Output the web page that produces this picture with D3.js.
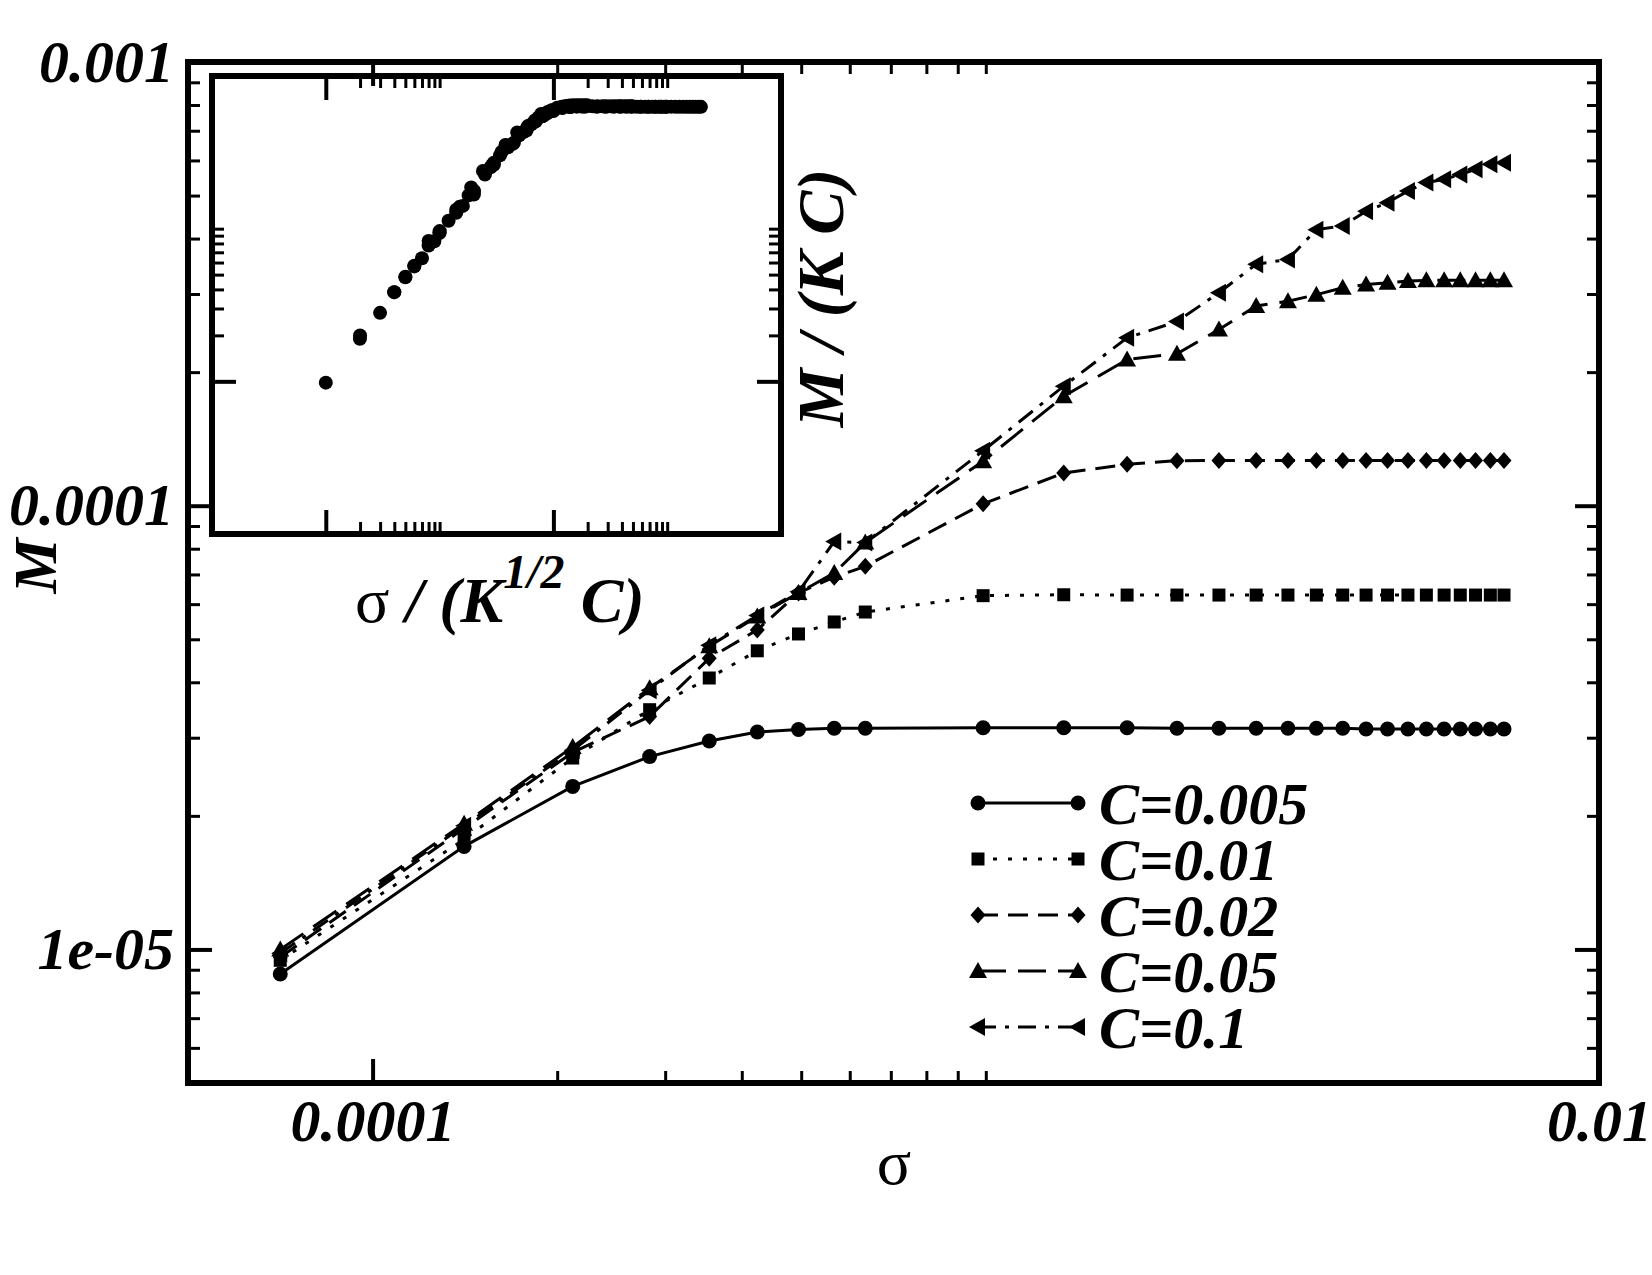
<!DOCTYPE html>
<html>
<head>
<meta charset="utf-8">
<script src="https://cdn.jsdelivr.net/npm/d3@7.9.0/dist/d3.min.js"></script>
<style>
  body { margin: 0; background: #fff; }
  text { font-family: "Liberation Serif", "Times New Roman", serif; fill: #000; }
  .bi { font-weight: bold; font-style: italic; }
</style>
</head>
<body>
<svg id="chart" width="1652" height="1275"></svg>
<script>
// sigma values shared by every curve
const sigma = [7.07e-5, 1.41e-4, 2.12e-4, 2.83e-4, 3.54e-4, 4.24e-4, 4.95e-4, 5.66e-4, 6.36e-4,
  9.90e-4, 1.34e-3, 1.70e-3, 2.05e-3, 2.40e-3, 2.76e-3, 3.11e-3, 3.46e-3, 3.82e-3, 4.17e-3,
  4.52e-3, 4.88e-3, 5.23e-3, 5.59e-3, 5.94e-3, 6.29e-3, 6.65e-3, 7.00e-3];

const mC005 = [8.8e-6, 1.707e-5, 2.33e-5, 2.72e-5, 2.95e-5, 3.09e-5, 3.13e-5, 3.15e-5, 3.15e-5,
  3.16e-5, 3.16e-5, 3.16e-5, 3.15e-5, 3.15e-5, 3.15e-5, 3.15e-5, 3.15e-5, 3.15e-5,
  3.14e-5, 3.14e-5, 3.14e-5, 3.14e-5, 3.14e-5, 3.14e-5, 3.14e-5, 3.14e-5, 3.14e-5];
const mC01 = [9.45e-6, 1.77e-5, 2.70e-5, 3.47e-5, 4.09e-5, 4.71e-5, 5.14e-5, 5.47e-5, 5.76e-5,
  6.27e-5, 6.30e-5, 6.29e-5, 6.29e-5, 6.29e-5, 6.29e-5, 6.29e-5, 6.29e-5, 6.29e-5,
  6.29e-5, 6.29e-5, 6.29e-5, 6.29e-5, 6.29e-5, 6.29e-5, 6.29e-5, 6.29e-5, 6.29e-5];
const mC02 = [9.6e-6, 1.875e-5, 2.78e-5, 3.35e-5, 4.53e-5, 5.25e-5, 6.36e-5, 6.9e-5, 7.3e-5,
  1.01e-4, 1.185e-4, 1.24e-4, 1.263e-4, 1.265e-4, 1.265e-4, 1.265e-4, 1.265e-4, 1.265e-4,
  1.265e-4, 1.265e-4, 1.265e-4, 1.265e-4, 1.265e-4, 1.265e-4, 1.265e-4, 1.265e-4, 1.265e-4];
const mC05 = [1.0e-5, 1.92e-5, 2.86e-5, 3.88e-5, 4.82e-5, 5.63e-5, 6.36e-5, 7.05e-5, 8.26e-5,
  1.26e-4, 1.765e-4, 2.135e-4, 2.20e-4, 2.495e-4, 2.82e-4, 2.89e-4, 2.99e-4, 3.10e-4,
  3.15e-4, 3.18e-4, 3.21e-4, 3.22e-4, 3.22e-4, 3.22e-4, 3.22e-4, 3.22e-4, 3.22e-4];
const mC1 = [9.8e-6, 1.90e-5, 2.81e-5, 3.84e-5, 4.85e-5, 5.66e-5, 6.40e-5, 8.3e-5, 8.26e-5,
  1.33e-4, 1.86e-4, 2.39e-4, 2.60e-4, 3.02e-4, 3.50e-4, 3.59e-4, 4.19e-4, 4.27e-4,
  4.61e-4, 4.82e-4, 5.12e-4, 5.35e-4, 5.44e-4, 5.58e-4, 5.73e-4, 5.88e-4, 5.93e-4];

const concentrations = [0.005, 0.01, 0.02, 0.05, 0.1];
const legendLabels = ['C=0.005', 'C=0.01', 'C=0.02', 'C=0.05', 'C=0.1'];
const seriesValues = [mC005, mC01, mC02, mC05, mC1];

// axis ticks
const xMajor = [1e-4, 1e-2];
const xTickLabels = ['0.0001', '0.01'];
const xMinor = [2e-4, 3e-4, 4e-4, 5e-4, 6e-4, 7e-4, 8e-4, 9e-4, 1e-3];
const yMajor = [1e-5, 1e-4, 1e-3];
const yTickLabels = ['1e-05', '0.0001', '0.001'];
const yMinor = [6e-6, 7e-6, 8e-6, 9e-6, 2e-5, 3e-5, 4e-5, 5e-5, 6e-5, 7e-5, 8e-5, 9e-5,
  2e-4, 3e-4, 4e-4, 5e-4, 6e-4, 7e-4, 8e-4, 9e-4];

// inset: scaled variables sigma/(K^1/2 C) and M/(K C)
const K = 0.005;
const insetXMajor = [1e-2, 1];
const insetXMinor = [2e-2, 3e-2, 4e-2, 5e-2, 6e-2, 7e-2, 8e-2, 9e-2, 1e-1, 2, 3, 4, 5, 6, 7, 8, 9, 10];
const insetYMajor = [2e-2];
const insetYMinor = [4e-2, 6e-2, 8e-2, 0.1, 0.12, 0.14, 0.16, 0.18, 0.2];

const svg = d3.select('#chart');
svg.append('rect').attr('width', 1652).attr('height', 1275).attr('fill', '#fff');

const x = d3.scaleLog().domain([5e-5, 1e-2]).range([188, 1599]);
const y = d3.scaleLog().domain([5e-6, 1e-3]).range([1083, 62]);
const ix = d3.scaleLog().domain([1e-3, 1e2]).range([212, 781]);
const iy = d3.scaleLog().domain([2e-3, 2]).range([534, 76]);

function tickSet(axisGen, scale, values, len, width, tx, ty) {
  const g = svg.append('g').attr('transform', `translate(${tx},${ty})`)
    .call(axisGen(scale).tickValues(values).tickSize(-len).tickFormat(''));
  g.select('.domain').remove();
  g.selectAll('.tick line').attr('stroke', '#000').attr('stroke-width', width);
}

function frameTicks(xs, ys, xMaj, xMin, yMaj, yMin) {
  const [x0, x1] = xs.range();
  const [y0, y1] = ys.range();
  tickSet(d3.axisBottom, xs, xMin, 12, 3, 0, y0);
  tickSet(d3.axisTop, xs, xMin, 12, 3, 0, y1);
  tickSet(d3.axisBottom, xs, xMaj, 24, 4, 0, y0);
  tickSet(d3.axisTop, xs, xMaj, 24, 4, 0, y1);
  tickSet(d3.axisLeft, ys, yMin, 12, 3, x0, 0);
  tickSet(d3.axisRight, ys, yMin, 12, 3, x1, 0);
  tickSet(d3.axisLeft, ys, yMaj, 24, 4, x0, 0);
  tickSet(d3.axisRight, ys, yMaj, 24, 4, x1, 0);
  svg.append('rect')
    .attr('x', x0).attr('y', y1)
    .attr('width', x1 - x0).attr('height', y0 - y1)
    .attr('fill', 'none').attr('stroke', '#000').attr('stroke-width', 6);
}

// main frame + ticks
frameTicks(x, y, xMajor, xMinor, yMajor, yMinor);

// tick labels
const gxl = svg.append('g').attr('transform', 'translate(0,1083)')
  .call(d3.axisBottom(x).tickValues(xMajor).tickSize(0).tickPadding(15)
    .tickFormat((d, i) => xTickLabels[i]));
gxl.select('.domain').remove();
gxl.selectAll('text').attr('class', 'bi').attr('font-size', 60)
  .attr('font-family', '"Liberation Serif", serif');

const gyl = svg.append('g').attr('transform', 'translate(188,0)')
  .call(d3.axisLeft(y).tickValues(yMajor).tickSize(0).tickPadding(14)
    .tickFormat((d, i) => yTickLabels[i]));
gyl.select('.domain').remove();
gyl.selectAll('text').attr('class', 'bi').attr('font-size', 60)
  .attr('font-family', '"Liberation Serif", serif');

// axis titles
svg.append('text').attr('x', 894).attr('y', 1184)
  .attr('text-anchor', 'middle').attr('font-size', 64).text('σ');
svg.append('text').attr('class', 'bi').attr('font-size', 62)
  .attr('text-anchor', 'middle')
  .attr('transform', 'translate(56,566) rotate(-90)').text('M');

// inset
frameTicks(ix, iy, insetXMajor, insetXMinor, insetYMajor, insetYMinor);

const insetPoints = concentrations.flatMap((c, s) =>
  sigma.map((sg, i) => ({ sx: sg / (Math.sqrt(K) * c), sy: seriesValues[s][i] / (K * c) })));

svg.append('g').selectAll('circle')
  .data(insetPoints)
  .enter()
  .append('circle')
  .attr('cx', d => ix(d.sx))
  .attr('cy', d => iy(d.sy))
  .attr('r', 7)
  .attr('fill', '#000');

const ixl = svg.append('text').attr('x', 355).attr('y', 622).attr('font-size', 64);
ixl.append('tspan').text('σ');
ixl.append('tspan').attr('class', 'bi').text(' / (K');
ixl.append('tspan').attr('class', 'bi').attr('font-size', 48).attr('dy', -34).text('1/2');
ixl.append('tspan').attr('class', 'bi').attr('dy', 34).text(' C)');

svg.append('text').attr('class', 'bi').attr('font-size', 66)
  .attr('text-anchor', 'middle')
  .attr('transform', 'translate(843,298) rotate(-90)').text('M / (K C)');

// markers
const markerPaths = {
  circle: 'M7.5,0A7.5,7.5 0 1,1 -7.5,0A7.5,7.5 0 1,1 7.5,0Z',
  square: 'M-6.5,-6.5H6.5V6.5H-6.5Z',
  diamond: 'M0,-8.5L7.5,0L0,8.5L-7.5,0Z',
  triangle: 'M0,-9L9,7L-9,7Z',
  left: 'M-9,0L7,-9L7,9Z'
};
const styles = [
  { marker: 'circle', dash: null },
  { marker: 'square', dash: '4,11' },
  { marker: 'diamond', dash: '20,10' },
  { marker: 'triangle', dash: '28,12' },
  { marker: 'left', dash: '18,9,4,9' }
];

const line = d3.line().x(d => x(d[0])).y(d => y(d[1]));

seriesValues.forEach((vals, s) => {
  const pts = sigma.map((sg, i) => [sg, vals[i]]);
  const g = svg.append('g');
  g.append('path')
    .attr('d', line(pts))
    .attr('fill', 'none')
    .attr('stroke', '#000')
    .attr('stroke-width', 3)
    .attr('stroke-dasharray', styles[s].dash);
  g.selectAll('path.mk')
    .data(pts)
    .enter()
    .append('path')
    .attr('class', 'mk')
    .attr('d', markerPaths[styles[s].marker])
    .attr('transform', d => `translate(${x(d[0])},${y(d[1])})`)
    .attr('fill', '#000');
});

// legend
const legendY = d3.scaleLinear().domain([0, 4]).range([803, 1027]);
legendLabels.forEach((label, s) => {
  const ly = legendY(s);
  const g = svg.append('g');
  g.append('line')
    .attr('x1', 978).attr('x2', 1078).attr('y1', ly).attr('y2', ly)
    .attr('stroke', '#000').attr('stroke-width', 3)
    .attr('stroke-dasharray', styles[s].dash);
  [978, 1078].forEach(lx => {
    g.append('path')
      .attr('d', markerPaths[styles[s].marker])
      .attr('transform', `translate(${lx},${ly})`)
      .attr('fill', '#000');
  });
  g.append('text').attr('class', 'bi').attr('font-size', 60)
    .attr('x', 1099).attr('y', ly + 21).text(label);
});
</script>
</body>
</html>
